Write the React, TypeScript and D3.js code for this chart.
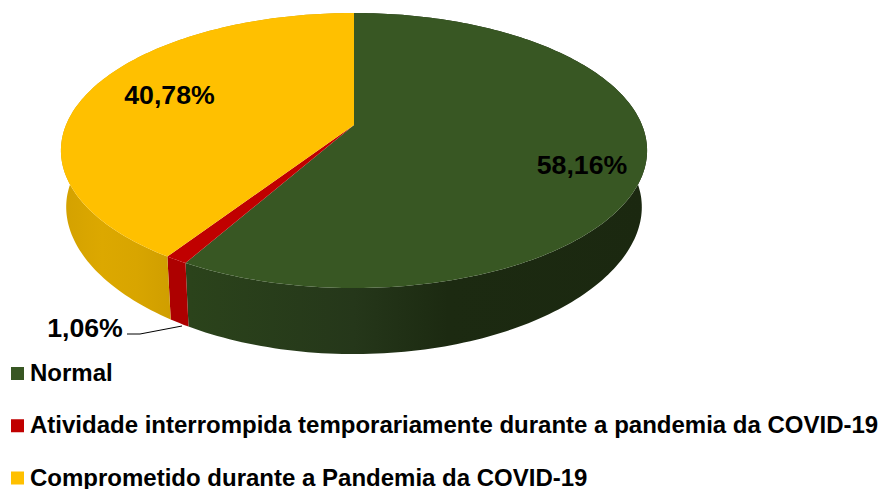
import React from 'react';
import * as d3 from 'd3';

// Values
const categories = [
  'Normal',
  'Atividade interrompida temporariamente durante a pandemia da COVID-19',
  'Comprometido durante a Pandemia da COVID-19',
];
const values = [58.16, 1.06, 40.78];
const valueLabels = ['58,16%', '1,06%', '40,78%'];
const colors = ['#385723', '#C00000', '#FFC000'];
const sideColors = [
  ['#2b431b', '#25371a', '#1c2a11', '#1b2810'],
  ['#ad0000', '#ad0000', '#ad0000', '#ad0000'],
  ['#d3a100', '#dca800', '#d8a500', '#cf9e00'],
];
// where each wall's colours sit across the pie, left to right
const sideOffsets = [
  [0.22, 0.5, 0.66, 1],
  [0, 0.33, 0.66, 1],
  [0, 0.07, 0.13, 0.19],
];

const width = 880;
const height = 489;

// the disc seen in perspective: apex sits above the middle of the ellipse
const cx = 354;
const apexY = 125;
const radiusX = 288;
const depthY = 109.6;
const persp = -0.1855;

function project(angle: number, level: number): [number, number] {
  const u = Math.sin(angle);
  const v = -Math.cos(angle);
  const w = 1 + persp * v;
  const shrink = 1 - 0.018 * level;
  const x = cx + (radiusX * shrink * u) / w;
  // the wall is a bit taller at the front than at the sides
  const drop = level * (56.5 + 12 * v * v);
  const y = (depthY * shrink * v + apexY) / w + drop;
  return [x, y];
}

const line = d3.line<[number, number]>();

function arcPoints(start: number, end: number, level: number) {
  const n = Math.max(2, Math.ceil((end - start) / 0.02));
  return d3.range(n + 1).map(i => project(start + ((end - start) * i) / n, level));
}

export default function App() {
  const slices = d3.pie<number>().sort(null)(values);

  const legendY = d3.scalePoint<number>()
    .domain(d3.range(categories.length))
    .range([373.5, 478]);

  return (
    <svg
      width={width}
      height={height}
      style={{ position: 'absolute', left: 0, top: 0, fontFamily: '"Liberation Sans", Arial, sans-serif', fontWeight: 700 }}
    >
      <defs>
        {sideColors.map((stops, i) => (
          <linearGradient key={i} id={`side-${i}`} gradientUnits="userSpaceOnUse" x1={61} x2={647} y1={0} y2={0}>
            {stops.map((c, j) => (
              <stop key={j} offset={sideOffsets[i][j]} stopColor={c} />
            ))}
          </linearGradient>
        ))}
      </defs>

      {/* outer walls first, the top faces paint over their far half */}
      {slices.map((s, i) => {
        const top = arcPoints(s.startAngle, s.endAngle, 0);
        const bottom = arcPoints(s.startAngle, s.endAngle, 1).reverse();
        return <path key={i} d={line([...top, ...bottom])! + 'Z'} fill={`url(#side-${i})`} />;
      })}

      {slices.map((s, i) => (
        <path
          key={i}
          d={line([[cx, apexY], ...arcPoints(s.startAngle, s.endAngle, 0)])! + 'Z'}
          fill={colors[i]}
        />
      ))}

      {/* leader line for the small slice */}
      <polyline points="127,334 140,334 182,326" fill="none" stroke="#000" strokeWidth={1} />

      <text x={582} y={174} fontSize={26.7} textAnchor="middle" fill="#000">{valueLabels[0]}</text>
      <text x={85} y={337} fontSize={26.7} textAnchor="middle" fill="#000">{valueLabels[1]}</text>
      <text x={169.5} y={104} fontSize={26.7} textAnchor="middle" fill="#000">{valueLabels[2]}</text>

      {categories.map((c, i) => (
        <g key={i} transform={`translate(0,${legendY(i)})`}>
          <rect x={11} y={-6.5} width={13} height={13} fill={colors[i]} />
          <text x={30} y={7.5} fontSize={24} fill="#000">{c}</text>
        </g>
      ))}
    </svg>
  );
}
